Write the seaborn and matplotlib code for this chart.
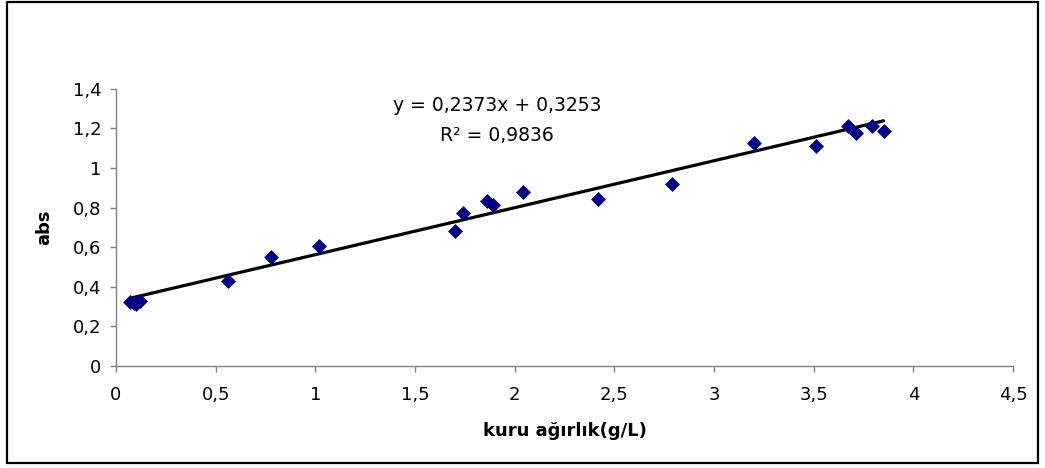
import matplotlib
matplotlib.use("Agg")
import matplotlib.pyplot as plt
from matplotlib.patches import Rectangle
from matplotlib.ticker import FuncFormatter
import numpy as np
import pandas as pd
import seaborn as sns

# Dry weight (g/L) and absorbance readings
kuru_agirlik = [0.07, 0.09, 0.10, 0.12, 0.56, 0.78, 1.02, 1.70, 1.74, 1.86, 1.89,
                2.04, 2.42, 2.79, 3.20, 3.51, 3.67, 3.71, 3.79, 3.85]
absorbans = [0.325, 0.32, 0.315, 0.328, 0.429, 0.553, 0.607, 0.682, 0.774, 0.834, 0.813,
             0.881, 0.843, 0.921, 1.127, 1.111, 1.215, 1.177, 1.211, 1.187]

# Linear trendline coefficients and fit quality
egim = 0.2373
kesim = 0.3253
r_kare = 0.9836

x_ticks = [0, 0.5, 1, 1.5, 2, 2.5, 3, 3.5, 4, 4.5]
y_ticks = [0, 0.2, 0.4, 0.6, 0.8, 1.0, 1.2, 1.4]

sns.set_theme(style="white")
plt.rcParams["font.family"] = ["DejaVu Sans"]
plt.rcParams["text.color"] = "black"
plt.rcParams["axes.labelcolor"] = "black"

df = pd.DataFrame({"kuru": kuru_agirlik, "abs": absorbans})

fig = plt.figure(figsize=(10.45, 4.68), dpi=100)
ax = fig.add_axes([0.111, 0.218, 0.8585, 0.592])

# Trendline across the data range
x_line = np.array([min(kuru_agirlik), max(kuru_agirlik)])
sns.lineplot(x=x_line, y=egim * x_line + kesim, ax=ax, color="black", linewidth=2.3,
             zorder=2)

sns.scatterplot(data=df, x="kuru", y="abs", ax=ax, marker="D", s=58, color="#000080",
                edgecolor="#000080", linewidth=0, zorder=3)

ax.set_xlim(0, 4.5)
ax.set_ylim(0, 1.4)
ax.set_xticks(x_ticks)
ax.set_yticks(y_ticks)


def virgul(v, pos):
    s = f"{v:.1f}".rstrip("0").rstrip(".")
    return s.replace(".", ",")


ax.xaxis.set_major_formatter(FuncFormatter(virgul))
ax.yaxis.set_major_formatter(FuncFormatter(virgul))

for side in ["top", "right"]:
    ax.spines[side].set_visible(False)
for side in ["left", "bottom"]:
    ax.spines[side].set_color("#808080")
    ax.spines[side].set_linewidth(1.0)

ax.tick_params(axis="both", which="major", direction="out", length=4.5, width=1,
               color="#808080", labelsize=13, labelcolor="black",
               bottom=True, left=True)
ax.tick_params(axis="x", pad=10)
ax.tick_params(axis="y", pad=6)

ax.set_xlabel("kuru ağırlık(g/L)", fontsize=13, fontweight="bold", color="black",
              labelpad=13)
ax.set_ylabel("abs", fontsize=13, fontweight="bold", color="black", labelpad=14)

ax.text(1.91, 1.314, f"y = {str(egim).replace('.', ',')}x + {str(kesim).replace('.', ',')}",
        ha="center", va="center", fontsize=13.5, color="black")
ax.text(1.91, 1.166, f"R² = {str(r_kare).replace('.', ',')}",
        ha="center", va="center", fontsize=13.5, color="black")

# Chart area frame
fig.patches.append(Rectangle((0.0067, 0.011), 0.9866, 0.984, transform=fig.transFigure,
                             fill=False, edgecolor="black", linewidth=1.6))

fig.savefig("out.png", dpi=100, facecolor="white")
